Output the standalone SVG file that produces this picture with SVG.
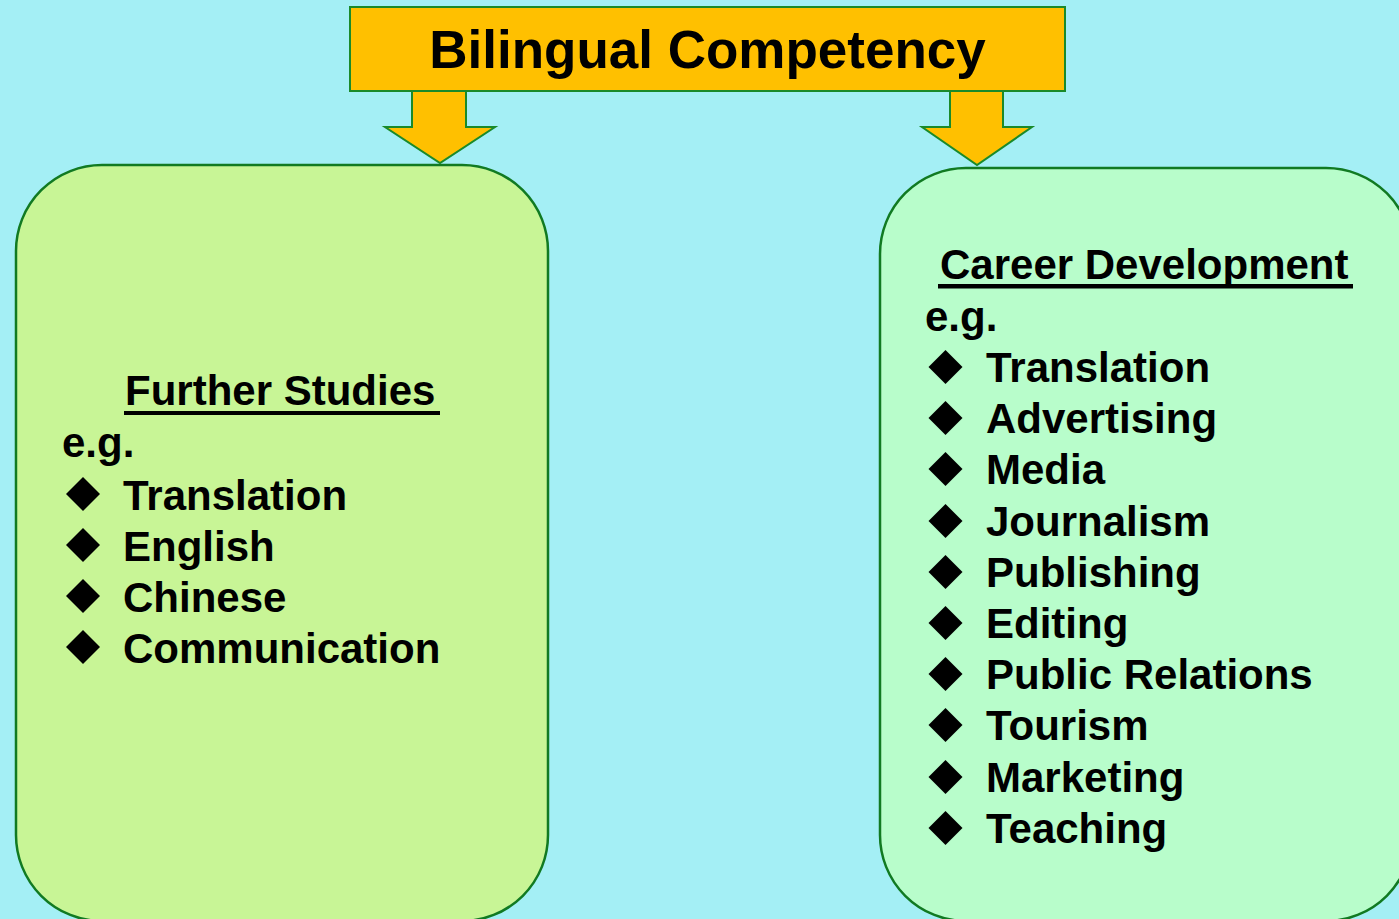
<svg xmlns="http://www.w3.org/2000/svg" width="1399" height="919" viewBox="0 0 1399 919">
<style>
.t{font-family:"Liberation Sans",Arial,sans-serif;font-weight:bold;fill:#000}
.item{font-size:42px}
.box{stroke:#117a22;stroke-width:2.5}
.arrow{fill:#ffc000;stroke:#1a8a2a;stroke-width:2}
.bul{fill:#000}
</style>
<defs>
<path id="dia" d="M0,-17 L17,0 L0,17 L-17,0 Z"/>
</defs>
<rect x="0" y="0" width="1399" height="919" fill="#a4eff5"/>
<g id="connectors">
<path class="arrow" d="M412,91 L466,91 L466,127 L495,127 L440,163 L385,127 L412,127 Z"/>
<path class="arrow" d="M950,91 L1003,91 L1003,127 L1032,127 L977,165 L922,127 L950,127 Z"/>
</g>
<g id="title">
<rect x="350" y="7" width="715" height="84" fill="#ffc000" stroke="#1a8a2a" stroke-width="2"/>
<text class="t" x="707.5" y="68" font-size="53" text-anchor="middle">Bilingual Competency</text>
</g>
<g id="further-studies">
<rect class="box" x="16" y="165" width="532" height="756" rx="86" ry="86" fill="#c8f596"/>
<text class="t item" x="125" y="405">Further Studies</text>
<rect x="124" y="411" width="316" height="4" fill="#000"/>
<text class="t item" x="62" y="457">e.g.</text>
<use href="#dia" class="bul" x="83" y="494"/>
<text class="t item" x="123" y="510">Translation</text>
<use href="#dia" class="bul" x="83" y="545"/>
<text class="t item" x="123" y="561">English</text>
<use href="#dia" class="bul" x="83" y="596"/>
<text class="t item" x="123" y="612">Chinese</text>
<use href="#dia" class="bul" x="83" y="647"/>
<text class="t item" x="123" y="663">Communication</text>
</g>
<g id="career-development">
<rect class="box" x="880" y="168" width="532" height="753" rx="86" ry="86" fill="#b8fdcb"/>
<text class="t item" x="940" y="279">Career Development</text>
<rect x="938" y="284" width="415" height="4.5" fill="#000"/>
<text class="t item" x="925" y="331">e.g.</text>
<use href="#dia" class="bul" x="945.5" y="367"/>
<text class="t item" x="986" y="382">Translation</text>
<use href="#dia" class="bul" x="945.5" y="418"/>
<text class="t item" x="986" y="433">Advertising</text>
<use href="#dia" class="bul" x="945.5" y="469"/>
<text class="t item" x="986" y="484">Media</text>
<use href="#dia" class="bul" x="945.5" y="521"/>
<text class="t item" x="986" y="536">Journalism</text>
<use href="#dia" class="bul" x="945.5" y="572"/>
<text class="t item" x="986" y="587">Publishing</text>
<use href="#dia" class="bul" x="945.5" y="623"/>
<text class="t item" x="986" y="638">Editing</text>
<use href="#dia" class="bul" x="945.5" y="674"/>
<text class="t item" x="986" y="689">Public Relations</text>
<use href="#dia" class="bul" x="945.5" y="725"/>
<text class="t item" x="986" y="740">Tourism</text>
<use href="#dia" class="bul" x="945.5" y="777"/>
<text class="t item" x="986" y="792">Marketing</text>
<use href="#dia" class="bul" x="945.5" y="828"/>
<text class="t item" x="986" y="843">Teaching</text>
</g>
</svg>
